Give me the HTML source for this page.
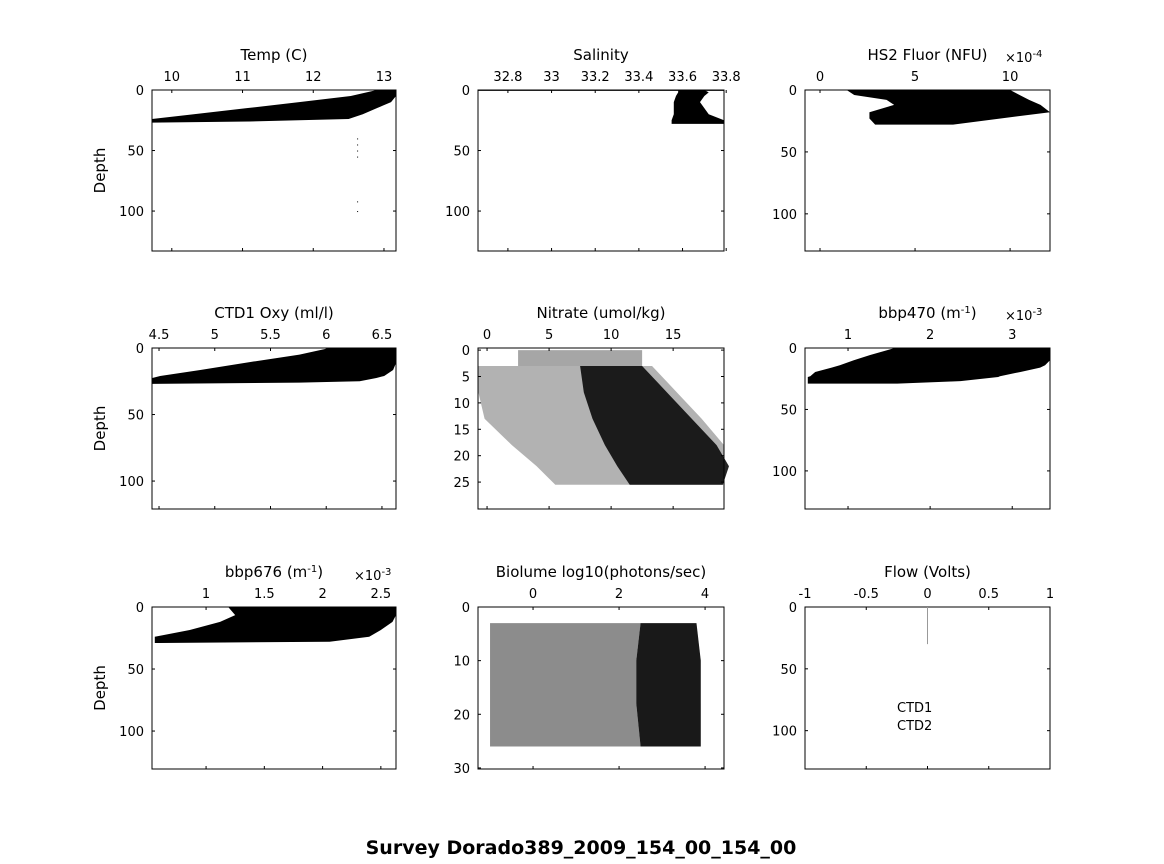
<!DOCTYPE html>
<html><head><meta charset="utf-8"><style>
body{margin:0;background:#fff;}
svg{display:block;font-family:"DejaVu Sans","Liberation Sans",sans-serif;}
</style></head><body>
<svg id="fig" width="1164" height="864" viewBox="0 0 1164 864"></svg>
<script>
// ---- data (profile envelopes: depth, min value, max value) ----
const tempDepth=[0,5,10,15,20,24,26,27];
const tempMin=[12.9,12.53,11.8,11.06,10.31,9.72,9.72,9.72];
const tempMax=[13.17,13.17,13.1,12.9,12.7,12.5,11.1,9.72];
const salDepth=[0,2,5,10,20,25,28];
const salMin=[33.58,33.58,33.57,33.56,33.56,33.55,33.55];
const salMax=[33.7,33.72,33.7,33.68,33.72,33.79,33.79];
const fluorDepth=[0,4,8,12,18,23,28];
const fluorMin=[1.4,1.8,3.5,3.9,2.6,2.6,2.9];
const fluorMax=[10.0,10.5,11.0,11.6,12.1,9.5,7.0];
const oxyDepth=[0,5,10.5,16.5,21,22.5,25,26,27];
const oxyMin=[6.03,5.76,5.32,4.87,4.51,4.44,4.44,4.44,4.44];
const oxyMax=[6.63,6.63,6.63,6.6,6.52,6.45,6.30,5.76,4.44];
const nitDepth=[3,8,13,18,22,25.5];
const nitCoreMin=[7.5,7.8,8.5,9.5,10.5,11.5];
const nitCoreMax=[12.5,14.5,16.5,18.5,19.5,19.0];
const nitLightMin=[-0.7,-0.7,-0.2,2.0,4.0,5.5];
const nitLightMax=[13.3,15.3,17.3,19.1,19.1,19.1];
const bbp470Depth=[0,5.7,10,14,16,19.5,23,23.6,27,29];
const bbp470Min=[1.57,1.27,1.07,0.9,0.8,0.6,0.54,0.51,0.51,0.51];
const bbp470Max=[3.46,3.46,3.46,3.4,3.34,3.1,2.85,2.83,2.37,1.6];
const bbp676Depth=[0,6.5,12,18.5,24,28,29];
const bbp676Min=[1.19,1.25,1.12,0.86,0.56,0.56,0.56];
const bbp676Max=[2.63,2.63,2.6,2.5,2.4,2.06,0.6];
const bioDepth=[3,10,18,26];
const bioCoreMin=[2.5,2.4,2.4,2.5];
const bioCoreMax=[3.8,3.9,3.9,3.9];
const bioLightMin=[-1.0,-1.0,-1.0,-1.0];
const bioLightMax=[2.5,2.4,2.4,2.5];
const flowDepth=[0,30];
const flowVal=[0,0];
const ctdLabels=["CTD1","CTD2"];

const NS="http://www.w3.org/2000/svg";
const svg=document.getElementById('fig');
function mk(tag,attrs,parent){const e=document.createElementNS(NS,tag);for(const k in attrs)e.setAttribute(k,attrs[k]);(parent||svg).appendChild(e);return e;}
function txt(x,y,s,anchor,size,parent,weight){const t=mk('text',{x:x,y:y,'text-anchor':anchor||'middle','font-size':size||14,fill:'#000'},parent);if(weight)t.setAttribute('font-weight',weight);t.textContent=s;return t;}

function panel(name,x0,x1,y0,y1,xmin,xmax,ymin,ymax,xt,xtl,yt,ytl,title,depthLabel){
  const g=mk('g',{});
  
  
  const sx=v=>x0+(v-xmin)/(xmax-xmin)*(x1-x0);
  const sy=v=>y0+(v-ymin)/(ymax-ymin)*(y1-y0);
  const box=mk('rect',{x:x0,y:y0,width:x1-x0,height:y1-y0,fill:'none',stroke:'#000','stroke-width':1},g);
  
  
  xt.forEach((v,i)=>{const x=sx(v);mk('line',{x1:x,y1:y0,x2:x,y2:y0+3,stroke:'#000'},g);mk('line',{x1:x,y1:y1,x2:x,y2:y1-3,stroke:'#000'},g);
    const t=txt(x,y0-9,xtl[i],'middle',13,g);});
  yt.forEach((v,i)=>{const y=sy(v);mk('line',{x1:x0,y1:y,x2:x0+3,y2:y,stroke:'#000'},g);mk('line',{x1:x1,y1:y,x2:x1-3,y2:y,stroke:'#000'},g);
    const t=txt(x0-8,y+5,ytl[i],'end',13,g);});
  const tt=txt((x0+x1)/2,y0-30,'', 'middle',15,g);
  
  if(Array.isArray(title)){tt.textContent=title[0];const s=mk('tspan',{'baseline-shift':'super','font-size':10},tt);s.textContent='-1';const r=mk('tspan',{},tt);r.textContent=title[1];}
  else tt.textContent=title;
  if(depthLabel){const d=txt(0,0,'Depth','middle',15,g);d.setAttribute('transform',`translate(${x0-47},${(y0+y1)/2}) rotate(-90)`);}
  return {g,sx,sy};
}
function band(p,depth,mn,mx,op,name){
  let pts=[];depth.forEach((d,i)=>pts.push(p.sx(mn[i])+','+p.sy(d)));
  for(let i=depth.length-1;i>=0;i--)pts.push(p.sx(mx[i])+','+p.sy(depth[i]));
  const e=mk('polygon',{points:pts.join(' '),fill:'#000','fill-opacity':op},p.g);
  
  
}
function expo(x,y,s){const t=txt(x,y,'×10','start',13);const u=mk('tspan',{'baseline-shift':'super','font-size':10},t);u.textContent=s;}

// Row 1
let p=panel('temp',152,396,90,251,9.72,13.17,0,133,[10,11,12,13],['10','11','12','13'],[0,50,100],['0','50','100'],'Temp (C)',true);
band(p,tempDepth,tempMin,tempMax,1,'temp-profile');
[40,45,50,55,92,100].forEach(d=>mk('rect',{x:p.sx(12.62),y:p.sy(d),width:1,height:1,fill:'#000'},p.g));
p=panel('salinity',478,724,90,251,32.663,33.79,0,133,[32.8,33,33.2,33.4,33.6,33.8],['32.8','33','33.2','33.4','33.6','33.8'],[0,50,100],['0','50','100'],'Salinity',false);
band(p,salDepth,salMin,salMax,1,'salinity-profile');
mk('line',{x1:478,y1:p.sy(0.3),x2:724,y2:p.sy(0.3),stroke:'#000','stroke-width':1},p.g);
p=panel('hs2-fluor',805,1050,90,251,-0.79,12.1,0,130,[0,5,10],['0','5','10'],[0,50,100],['0','50','100'],'HS2 Fluor (NFU)',false);
band(p,fluorDepth,fluorMin,fluorMax,1,'fluor-profile');
expo(1005,62,'-4');
// Row 2
p=panel('oxy',152,396,348,509,4.437,6.626,0,121,[4.5,5,5.5,6,6.5],['4.5','5','5.5','6','6.5'],[0,50,100],['0','50','100'],'CTD1 Oxy (ml/l)',true);
band(p,oxyDepth,oxyMin,oxyMax,1,'oxy-profile');
p=panel('nitrate',478,724,348,509,-0.73,19.1,-0.4,30.1,[0,5,10,15],['0','5','10','15'],[0,5,10,15,20,25],['0','5','10','15','20','25'],'Nitrate (umol/kg)',false);
band(p,nitDepth,nitLightMin,nitLightMax,0.3,'nitrate-speckle');
band(p,nitDepth,nitCoreMin,nitCoreMax,0.85,'nitrate-core');
band(p,[0,3],[2.5,2.5],[12.5,12.5],0.35,'nitrate-surface');
p=panel('bbp470',805,1050,348,509,0.476,3.46,0,131,[1,2,3],['1','2','3'],[0,50,100],['0','50','100'],['bbp470 (m',')'],false);
band(p,bbp470Depth,bbp470Min,bbp470Max,1,'bbp470-profile');
expo(1005,320,'-3');
// Row 3
p=panel('bbp676',152,396,607,769,0.536,2.63,0,130.6,[1,1.5,2,2.5],['1','1.5','2','2.5'],[0,50,100],['0','50','100'],['bbp676 (m',')'],true);
band(p,bbp676Depth,bbp676Min,bbp676Max,1,'bbp676-profile');
expo(354,580,'-3');
p=panel('biolume',478,724,607,769,-1.28,4.44,0,30.2,[0,2,4],['0','2','4'],[0,10,20,30],['0','10','20','30'],'Biolume log10(photons/sec)',false);
band(p,bioDepth,bioLightMin,bioLightMax,0.45,'biolume-speckle');
band(p,bioDepth,bioCoreMin,bioCoreMax,0.9,'biolume-core');
p=panel('flow',805,1050,607,769,-1,1,0,131,[-1,-0.5,0,0.5,1],['-1','-0.5','0','0.5','1'],[0,50,100],['0','50','100'],'Flow (Volts)',false);
const fl=mk('line',{x1:p.sx(flowVal[0]),y1:p.sy(flowDepth[0]),x2:p.sx(flowVal[1]),y2:p.sy(flowDepth[1]),stroke:'#999','stroke-width':1},p.g);

ctdLabels.forEach((s,i)=>{const t=txt(897,712+i*18,s,'start',13,p.g);});
// Figure title
const ft=txt(581,854,'Survey Dorado389_2009_154_00_154_00','middle',19,svg,'bold');


</script>
</body></html>
